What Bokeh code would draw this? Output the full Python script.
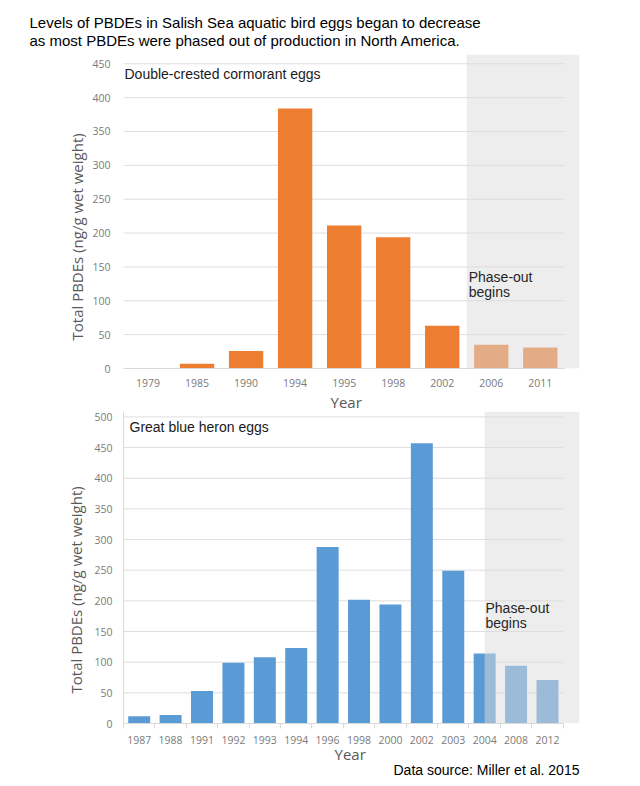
from bokeh.plotting import figure
from bokeh.models import FixedTicker, BoxAnnotation, Label, Range1d, Title
from bokeh.layouts import column
from bokeh.embed import file_html
from bokeh.resources import INLINE

# ---------------- data ----------------
title_lines = [
    "Levels of PBDEs in Salish Sea aquatic bird eggs began to decrease",
    "as most PBDEs were phased out of production in North America.",
]
cormorant_title = "Double-crested cormorant eggs"
cormorant_years = ["1979", "1985", "1990", "1994", "1995", "1998", "2002", "2006", "2011"]
cormorant_pbde = [0, 7, 26, 384, 211, 194, 63, 35, 31]
cormorant_yticks = [0, 50, 100, 150, 200, 250, 300, 350, 400, 450]
cormorant_last_before_phaseout = "2002"   # shading starts after this bar

heron_title = "Great blue heron eggs"
heron_years = ["1987", "1988", "1991", "1992", "1993", "1994", "1996", "1998",
               "2000", "2002", "2003", "2004", "2008", "2012"]
heron_pbde = [12, 14, 53, 99, 108, 123, 288, 202, 194, 457, 249, 114, 94, 71]
heron_yticks = [0, 50, 100, 150, 200, 250, 300, 350, 400, 450, 500]
heron_phaseout_year = "2004"               # shading starts mid-bar of this year

y_label = "Total PBDEs (ng/g wet weight)"
x_label = "Year"
phase_lines = ["Phase-out", "begins"]
source_text = "Data source: Miller et al. 2015"

# ---------------- style ----------------
ORANGE = "#ED7D31"
BLUE = "#5B9BD5"
GRID = "#dedede"
AXIS = "#d9d9d9"
TICK_TXT = "#7a7a7a"
LABEL_TXT = "#595959"
SANS = "Liberation Sans"
AXF = "Open Sans"
PAGE_W = 624
X0 = 8   # page margin (horizontal)
Y0 = 0   # observed vertical page offset


def conv(px, py, fl, ft, fw, fh, xr, yr):
    x = xr[0] + (px - fl) / fw * (xr[1] - xr[0])
    y = yr[1] - (py - ft) / fh * (yr[1] - yr[0])
    return x, y


def build(years, vals, yticks, color, shade_left, fig_top, height, frame, xr, yr,
          yaxis_line, boundary_ticks, std_y, x_std, texts):
    fl, ft, fw, fh = frame
    n = len(years)
    idx = list(range(n))
    p = figure(width=PAGE_W, height=height, output_backend="svg", toolbar_location=None,
               title=None, x_range=Range1d(*xr), y_range=Range1d(*yr),
               min_border_left=fl - X0, min_border_right=PAGE_W + X0 - fl - fw,
               min_border_top=ft - fig_top, min_border_bottom=fig_top + height - ft - fh)
    p.outline_line_color = None
    p.background_fill_color = "white"
    p.border_fill_color = "white"
    p.xgrid.visible = False
    p.ygrid.visible = False

    # horizontal gridlines over the category span only
    p.segment(x0=-0.5, x1=n - 0.5, y0=yticks, y1=yticks, line_color=GRID, line_width=1)
    p.vbar(x=idx, top=vals, width=0.7, fill_color=color, line_color=None)

    # x axis
    xa = p.xaxis[0]
    xa.ticker = FixedTicker(ticks=idx,
                            minor_ticks=[i - 0.5 for i in range(n + 1)] if boundary_ticks else [])
    xa.major_label_overrides = {i: y for i, y in zip(idx, years)}
    xa.bounds = (-0.5, n - 0.5)
    xa.axis_line_color = AXIS
    xa.major_tick_line_color = None
    xa.major_tick_out = 0
    xa.minor_tick_line_color = AXIS if boundary_ticks else None
    xa.minor_tick_out = 5 if boundary_ticks else 0
    xa.minor_tick_in = 0
    xa.major_label_text_font = AXF
    xa.major_label_text_font_size = "10.5px"
    xa.major_label_text_color = TICK_TXT
    xa.major_label_standoff = x_std

    # y axis (ticks)
    ya = p.yaxis[0]
    ya.ticker = FixedTicker(ticks=yticks)
    ya.axis_line_color = AXIS if yaxis_line else None
    ya.major_tick_line_color = None
    ya.major_tick_out = 0
    ya.minor_tick_line_color = None
    ya.minor_tick_out = 0
    ya.major_label_text_font = AXF
    ya.major_label_text_font_size = "10.5px"
    ya.major_label_text_color = TICK_TXT
    ya.major_label_standoff = std_y

    # phase-out shading (semi-transparent overlay)
    p.add_layout(BoxAnnotation(left=shade_left, fill_color="#dcdcdc", fill_alpha=0.5,
                               line_color=None))

    for (txt, px, py, align, font, size, col) in texts:
        x, y = conv(px, py, fl, ft, fw, fh, xr, yr)
        p.add_layout(Label(x=x, y=y, text=txt, text_align=align, text_baseline="middle",
                           text_font=font, text_font_size=size, text_color=col))
    return p


def axis_title(text, offset, standoff, size="15px"):
    # align "left" = start of the text; offset measured from the frame edge
    return Title(text=text, align="left", offset=offset, standoff=standoff,
                 text_font=AXF, text_font_size=size, text_font_style="normal",
                 text_color=LABEL_TXT)


# ---------------- top panel ----------------
f1_frame = (122, 54, 465, 314)
f1_xr = (-0.5, 8.8)
f1_yr = (0, 463.7)
t1 = [
    (cormorant_title, 123, 73, "left", SANS, "14px", "#1a1a1a"),
    (phase_lines[0], 474, 276, "left", SANS, "14px", "#262626"),
    (phase_lines[1], 474, 291, "left", SANS, "14px", "#262626"),
]
p1 = build(cormorant_years, cormorant_pbde, cormorant_yticks, ORANGE,
           cormorant_years.index(cormorant_last_before_phaseout) + 0.5,
           Y0, 411, f1_frame, f1_xr, f1_yr, False, False, 13, 10, t1)
p1.add_layout(Title(text=title_lines[0] + "\n" + title_lines[1], align="left", offset=-94,
                    text_font=SANS, text_font_size="15px", text_font_style="normal",
                    text_line_height=1.1, text_color="#000000", standoff=10), "above")
p1.add_layout(axis_title(y_label, 28, 5), "left")
p1.add_layout(axis_title(x_label, 207, 0), "below")

# ---------------- bottom panel ----------------
f2_frame = (131, 411, 456, 312)
f2_xr = (-0.5, 14.02)
f2_yr = (0, 508.8)
t2 = [
    (heron_title, 137, 426, "left", SANS, "14px", "#1a1a1a"),
    (phase_lines[0], 493, 607, "left", SANS, "14px", "#262626"),
    (phase_lines[1], 493, 622, "left", SANS, "14px", "#262626"),
]
p2 = build(heron_years, heron_pbde, heron_yticks, BLUE,
           heron_years.index(heron_phaseout_year),
           411, 371, f2_frame, f2_xr, f2_yr, True, True, 11, 7, t2)
p2.add_layout(axis_title(y_label, 30, 11), "left")
p2.add_layout(axis_title(x_label, 211, -9), "below")
p2.add_layout(Title(text=source_text, align="left", offset=270, text_font=SANS,
                    text_font_size="14px", text_font_style="normal", text_color="#000000",
                    standoff=0), "below")

layout = column(p1, p2, spacing=0)
open("out.html", "w").write(file_html(layout, INLINE))
